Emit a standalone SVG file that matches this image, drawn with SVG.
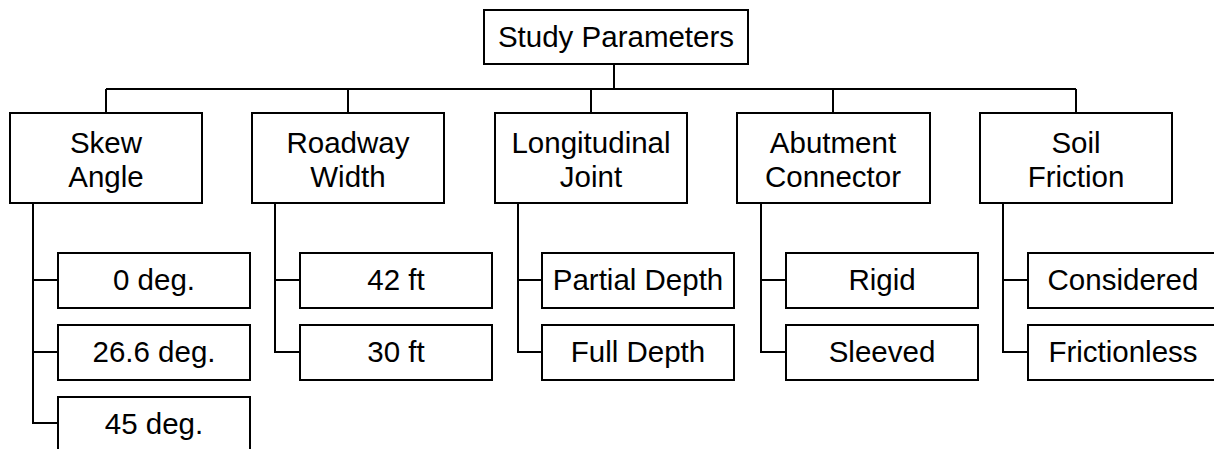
<svg xmlns="http://www.w3.org/2000/svg" width="1214" height="449" viewBox="0 0 1214 449">
<style>
rect{fill:#fff;stroke:#000;stroke-width:2}
.c path{fill:none;stroke:#000;stroke-width:2}
text{font-family:"Liberation Sans",Arial,sans-serif;font-size:29.5px;fill:#000;text-anchor:middle}
</style>
<rect x="0" y="0" width="1214" height="449" style="stroke:none"/>
<g class="c" id="connectors">
<path d="M614 64V89M106 89H1076M106 89V113M348 89V113M591 89V113M833 89V113M1076 89V113"/>
<path d="M33 203V423H58M33 280H58M33 352H58"/>
<path d="M275 203V352H300M275 280H300"/>
<path d="M518 203V352H542M518 280H542"/>
<path d="M761 203V352H786M761 280H786"/>
<path d="M1003 203V352H1028M1003 280H1028"/>
</g>
<g id="root"><rect x="484" y="10" width="264" height="54"/><text x="616" y="47">Study Parameters</text></g>
<g id="skew"><rect x="10" y="113" width="192" height="90"/><text x="106" y="153">Skew</text><text x="106" y="187">Angle</text></g>
<g id="roadway"><rect x="252" y="113" width="192" height="90"/><text x="348" y="153">Roadway</text><text x="348" y="187">Width</text></g>
<g id="joint"><rect x="495" y="113" width="192" height="90"/><text x="591" y="153">Longitudinal</text><text x="591" y="187">Joint</text></g>
<g id="abutment"><rect x="737" y="113" width="193" height="90"/><text x="833" y="153">Abutment</text><text x="833" y="187">Connector</text></g>
<g id="soil"><rect x="980" y="113" width="192" height="90"/><text x="1076" y="153">Soil</text><text x="1076" y="187">Friction</text></g>
<g id="deg0"><rect x="58" y="253" width="192" height="55"/><text x="154" y="290">0 deg.</text></g>
<g id="deg26"><rect x="58" y="325" width="192" height="55"/><text x="154" y="362">26.6 deg.</text></g>
<g id="deg45"><rect x="58" y="397" width="192" height="55"/><text x="154" y="434">45 deg.</text></g>
<g id="ft42"><rect x="300" y="253" width="192" height="55"/><text x="396" y="290">42 ft</text></g>
<g id="ft30"><rect x="300" y="325" width="192" height="55"/><text x="396" y="362">30 ft</text></g>
<g id="partial"><rect x="542" y="253" width="192" height="55"/><text x="638" y="290">Partial Depth</text></g>
<g id="full"><rect x="542" y="325" width="192" height="55"/><text x="638" y="362">Full Depth</text></g>
<g id="rigid"><rect x="786" y="253" width="192" height="55"/><text x="882" y="290">Rigid</text></g>
<g id="sleeved"><rect x="786" y="325" width="192" height="55"/><text x="882" y="362">Sleeved</text></g>
<g id="considered"><rect x="1028" y="253" width="192" height="55"/><text x="1123" y="290">Considered</text></g>
<g id="frictionless"><rect x="1028" y="325" width="192" height="55"/><text x="1123" y="362">Frictionless</text></g>
</svg>
